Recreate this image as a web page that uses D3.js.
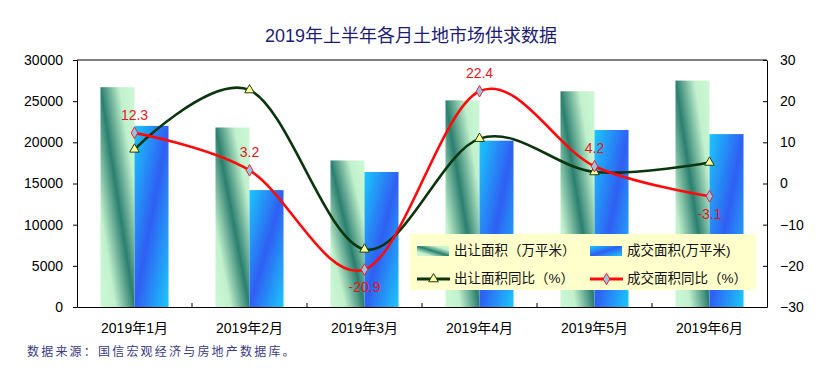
<!DOCTYPE html>
<html>
<head>
<meta charset="utf-8">
<script src="https://cdn.jsdelivr.net/npm/d3@7"></script>
<style>
  body { margin: 0; background: #fff; }
  text { font-family: "Liberation Sans", "Noto Sans CJK SC", sans-serif; }
</style>
</head>
<body>
<div id="chart"></div>
<script>
const months = ["2019年1月", "2019年2月", "2019年3月", "2019年4月", "2019年5月", "2019年6月"];
const supplyArea = [26700, 21800, 17800, 25100, 26200, 27500];   // 出让面积（万平米）
const dealArea   = [22000, 14200, 16400, 20200, 21500, 21000];   // 成交面积（万平米）
const supplyYoY  = [8.3, 22.7, -16.0, 10.9, 2.8, 5.1];          // 出让面积同比（%）
const dealYoY    = [12.3, 3.2, -20.9, 22.4, 4.2, -3.1];          // 成交面积同比（%）
const leftTicks  = [0, 5000, 10000, 15000, 20000, 25000, 30000];
const rightTicks = [-30, -20, -10, 0, 10, 20, 30];

const W = 821, H = 378;
const margin = {top: 60, right: 54, bottom: 71, left: 77};

const svg = d3.select("#chart").append("svg")
    .attr("width", W)
    .attr("height", H);

const defs = svg.append("defs");
// green bars: dark band along the top-left -> bottom-right diagonal
const gGreen = defs.append("linearGradient").attr("id", "gGreen")
    .attr("x1", 0).attr("y1", 1).attr("x2", 1).attr("y2", 0);
gGreen.append("stop").attr("offset", "0%").attr("stop-color", "#cdf8d6");
gGreen.append("stop").attr("offset", "22%").attr("stop-color", "#c2f1cd");
gGreen.append("stop").attr("offset", "50%").attr("stop-color", "#2b7f6f");
gGreen.append("stop").attr("offset", "78%").attr("stop-color", "#c2f1cd");
gGreen.append("stop").attr("offset", "100%").attr("stop-color", "#cdf8d6");
// blue bars: royal blue along the other diagonal, cyan at the corners
const gBlue = defs.append("linearGradient").attr("id", "gBlue")
    .attr("x1", 0).attr("y1", 0).attr("x2", 1).attr("y2", 1);
gBlue.append("stop").attr("offset", "0%").attr("stop-color", "#1ac8fa");
gBlue.append("stop").attr("offset", "50%").attr("stop-color", "#2f5ff3");
gBlue.append("stop").attr("offset", "100%").attr("stop-color", "#1ac8fa");

const x0 = margin.left, x1 = W - margin.right;
const yTop = margin.top, yBot = H - margin.bottom;

const x = d3.scaleBand().domain(months).range([x0, x1]);
const xs = d3.scaleBand().domain(["supply", "deal"])
    .range([0, x.bandwidth()]).paddingOuter(0.69);
const yL = d3.scaleLinear().domain([0, 30000]).range([yBot, yTop]);
const yR = d3.scaleLinear().domain([-30, 30]).range([yBot, yTop]);

// title
svg.append("text")
    .attr("x", 411).attr("y", 37)
    .attr("text-anchor", "middle").attr("dominant-baseline", "middle")
    .attr("font-size", 18).attr("fill", "#1c1c74")
    .text("2019年上半年各月土地市场供求数据");

// bars
const groups = svg.append("g").selectAll("g")
  .data(months)
  .join("g")
    .attr("transform", d => "translate(" + x(d) + ",0)");

groups.append("rect")
    .attr("x", xs("supply"))
    .attr("y", (d, i) => yL(supplyArea[i]))
    .attr("width", xs.bandwidth())
    .attr("height", (d, i) => yBot - yL(supplyArea[i]))
    .attr("fill", "url(#gGreen)");

groups.append("rect")
    .attr("x", xs("deal"))
    .attr("y", (d, i) => yL(dealArea[i]))
    .attr("width", xs.bandwidth())
    .attr("height", (d, i) => yBot - yL(dealArea[i]))
    .attr("fill", "url(#gBlue)");

// axes
const axisL = svg.append("g")
    .attr("transform", "translate(" + x0 + ",0)")
    .call(d3.axisLeft(yL).tickValues(leftTicks).tickFormat(d3.format("d"))
      .tickSize(4).tickPadding(10).tickSizeOuter(0));
const axisR = svg.append("g")
    .attr("transform", "translate(" + x1 + ",0)")
    .call(d3.axisRight(yR).tickValues(rightTicks).tickSize(-4).tickPadding(13).tickSizeOuter(0));
const axisB = svg.append("g")
    .attr("transform", "translate(0," + yBot + ")")
    .call(d3.axisBottom(x).tickSize(0).tickPadding(16));

[axisL, axisR, axisB].forEach(a => {
  a.selectAll("text").attr("font-size", 14).attr("fill", "#000");
  a.selectAll("line, path").attr("stroke", "#000");
});

// category boundary ticks on the x axis
svg.append("g").selectAll("line")
  .data(months.slice(1))
  .join("line")
    .attr("x1", d => x(d)).attr("x2", d => x(d))
    .attr("y1", yBot).attr("y2", yBot - 4)
    .attr("stroke", "#000");

// top border
svg.append("line")
    .attr("x1", x0).attr("x2", x1).attr("y1", yTop).attr("y2", yTop)
    .attr("stroke", "#000");

// lines
const cx = d => x(d) + x.bandwidth() / 2;
const line = vals => d3.line()
    .x(d => cx(d))
    .y((d, i) => yR(vals[i]))
    .curve(d3.curveCardinal.tension(0))(months);

svg.append("path")
    .attr("d", line(supplyYoY))
    .attr("fill", "none").attr("stroke", "#0b360d").attr("stroke-width", 2.6);
svg.append("path")
    .attr("d", line(dealYoY))
    .attr("fill", "none").attr("stroke", "#ff0a0a").attr("stroke-width", 2.6);

const tri = d3.symbol().type(d3.symbolTriangle).size(40);
const dia = d3.symbol().type(d3.symbolDiamond).size(38);

svg.append("g").selectAll("path")
  .data(months)
  .join("path")
    .attr("d", tri)
    .attr("transform", (d, i) => "translate(" + cx(d) + "," + yR(supplyYoY[i]) + ")")
    .attr("fill", "#ffff99").attr("stroke", "#1a3d12").attr("stroke-width", 1);

svg.append("g").selectAll("path")
  .data(months)
  .join("path")
    .attr("d", dia)
    .attr("transform", (d, i) => "translate(" + cx(d) + "," + yR(dealYoY[i]) + ")")
    .attr("fill", "#9cc3e6").attr("stroke", "#e8222a").attr("stroke-width", 1);

// data labels for 成交面积同比
svg.append("g").selectAll("text")
  .data(months)
  .join("text")
    .attr("x", d => cx(d))
    .attr("y", (d, i) => yR(dealYoY[i]) + (dealYoY[i] >= 0 ? -17 : 19))
    .attr("text-anchor", "middle").attr("dominant-baseline", "middle")
    .attr("font-size", 14).attr("fill", "#e8141e")
    .text((d, i) => dealYoY[i].toFixed(1));

// legend
const lg = svg.append("g").attr("transform", "translate(410,234)");
lg.append("rect").attr("width", 346).attr("height", 56).attr("fill", "#ffffcc");

const items = [
  {label: "出让面积（万平米）", kind: "bar", fill: "url(#gGreen)", col: 0, row: 0},
  {label: "成交面积(万平米)", kind: "bar", fill: "url(#gBlue)", col: 1, row: 0},
  {label: "出让面积同比（%）", kind: "line", color: "#0b360d", sym: "tri", col: 0, row: 1},
  {label: "成交面积同比（%）", kind: "line", color: "#ff0a0a", sym: "dia", col: 1, row: 1}
];

const li = lg.selectAll("g.item")
  .data(items)
  .join("g")
    .attr("class", "item")
    .attr("transform", d => "translate(" + (d.col ? 180 : 7) + "," + (d.row ? 45 : 17) + ")");

li.filter(d => d.kind === "bar").append("rect")
    .attr("x", 0).attr("y", -5).attr("width", 32).attr("height", 10)
    .attr("fill", d => d.fill);

li.filter(d => d.kind === "line").append("line")
    .attr("x1", 0).attr("x2", 33).attr("y1", 0).attr("y2", 0)
    .attr("stroke", d => d.color).attr("stroke-width", 3);

li.filter(d => d.kind === "line").append("path")
    .attr("transform", "translate(16.5,0)")
    .attr("d", d => d.sym === "tri" ? tri() : dia())
    .attr("fill", d => d.sym === "tri" ? "#ffff99" : "#9cc3e6")
    .attr("stroke", d => d.sym === "tri" ? "#1a3d12" : "#e8222a");

li.append("text")
    .attr("x", 37).attr("y", 0)
    .attr("dominant-baseline", "middle")
    .attr("font-size", 13.5).attr("fill", "#111")
    .text(d => d.label);

// source note
svg.append("text")
    .attr("x", 27).attr("y", 353)
    .attr("dominant-baseline", "middle")
    .attr("font-size", 12).attr("letter-spacing", 2.2).attr("fill", "#3a3a86")
    .text("数据来源：国信宏观经济与房地产数据库。");
</script>
</body>
</html>
